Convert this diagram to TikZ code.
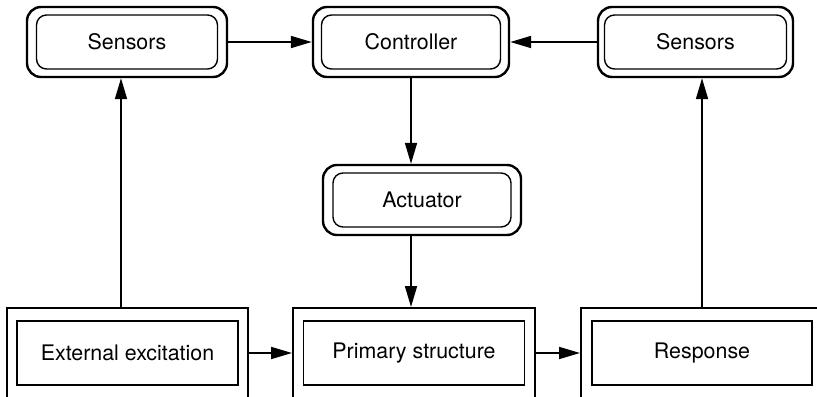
\documentclass[tikz,border=0pt]{standalone}
\usepackage{fontspec}
\setmainfont{TeX Gyre Heros}
\usetikzlibrary{arrows.meta}

\begin{document}
\begin{tikzpicture}[x=0.5pt, y=-0.5pt, font=\fontsize{10.7pt}{12pt}\selectfont,
  rundaussen/.style={draw, line width=1.2pt, rounded corners=7pt, minimum width=#1, minimum height=35pt, inner sep=0pt},
  rundinnen/.style={draw, line width=0.7pt, rounded corners=5pt, minimum width=#1, minimum height=27pt, inner sep=0pt},
  eckaussen/.style={draw, line width=1pt, minimum width=#1, minimum height=45pt, inner sep=0pt},
  eckinnen/.style={draw, line width=0.7pt, minimum width=#1, minimum height=32pt, inner sep=0pt},
  pfeil/.style={-{Triangle[length=10.5pt, width=6pt]}, line width=0.9pt}]
\useasboundingbox (0,0) rectangle (817,396);
\clip (0,0) rectangle (817,396);

% Sensoren, Regler, Aktor
\node[rundaussen=100pt] (sensL) at (127,42) {};
\node[rundinnen=90.5pt] (sensLtxt) at (sensL) {Sensors};
\node[rundaussen=98pt] (ctrl) at (411,42) {};
\node[rundinnen=89.5pt] (ctrltxt) at (ctrl) {Controller};
\node[rundaussen=97.5pt] (sensR) at (695.5,42) {};
\node[rundinnen=91pt] (sensRtxt) at (sensR) {Sensors};
\node[rundaussen=99pt] (act) at (422,200) {};
\node[rundinnen=89pt] (acttxt) at (act) {Actuator};

% untere Reihe
\node[eckaussen=120.5pt] (ext) at (127.5,353) {};
\node[eckinnen=110.5pt] (exttxt) at (ext) {External excitation};
\node[eckaussen=121pt] (prim) at (414,353) {};
\node[eckinnen=110.5pt] (primtxt) at (prim) {Primary structure};
\node[eckaussen=121pt] (resp) at (702,353) {};
\node[eckinnen=110pt] (resptxt) at (resp) {Response};

% Pfeile
\draw[pfeil] (sensL) -- (ctrl);
\draw[pfeil] (sensR) -- (ctrl);
\draw[pfeil] (ctrl.south) -- (act.north -| ctrl.south);
\draw[pfeil] (act.south -| ctrl.south) -- (prim.north -| ctrl.south);
\draw[pfeil] ([xshift=-3pt]sensL.south |- ext.north) -- ([xshift=-3pt]sensL.south);
\draw[pfeil] (resp.north) -- (sensR.south -| resp.north);
\draw[pfeil] (ext) -- (prim);
\draw[pfeil] (prim) -- (resp);
\end{tikzpicture}
\end{document}
